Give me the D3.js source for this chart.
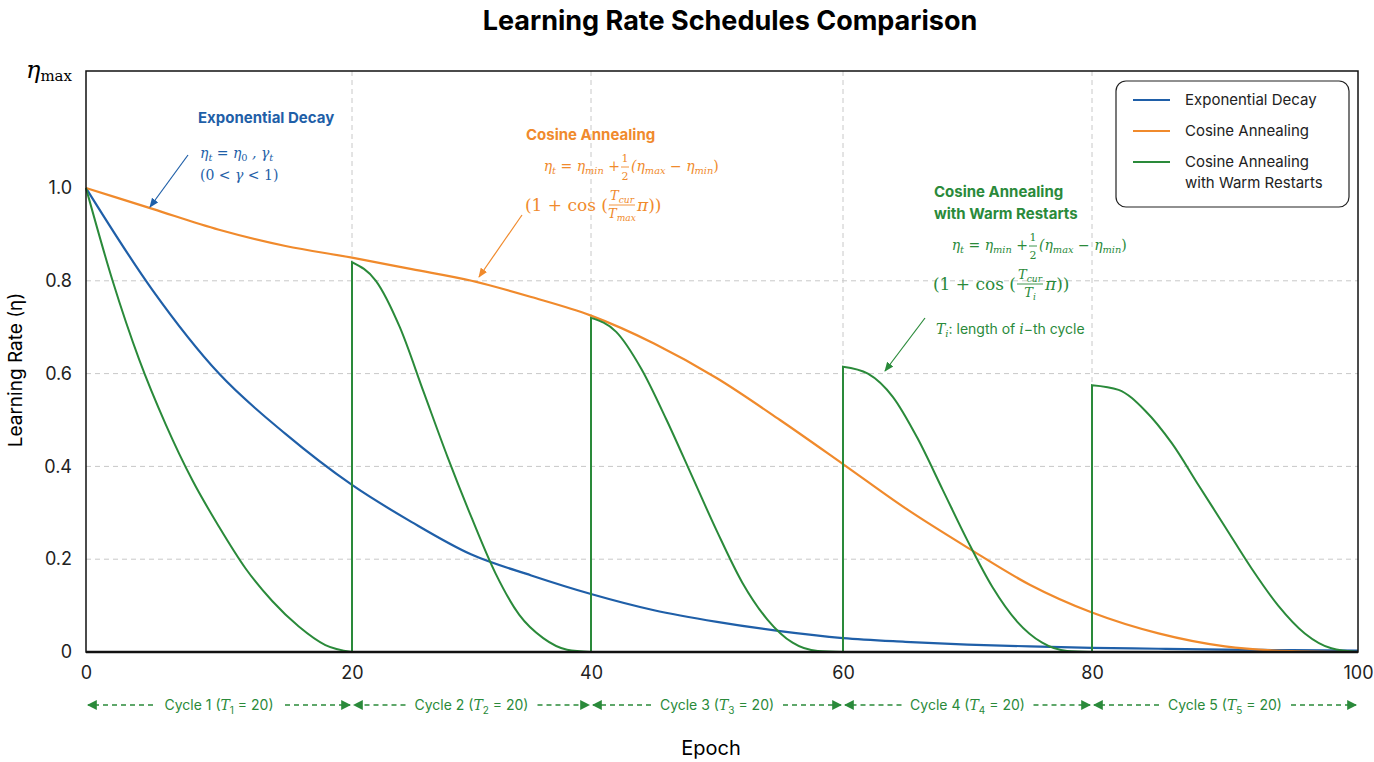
<!DOCTYPE html>
<html><head><meta charset="utf-8">
<script src="https://cdn.jsdelivr.net/npm/d3@7"></script>
<style>body{margin:0;background:#fff}</style>
</head><body><svg id="c" width="1374" height="762"></svg>
<script>
// values
const epochs = [0,5,10,15,20,25,30,35,40,45,50,55,60,65,70,75,80,85,90,95,100];
const expDecay = [1,0.78,0.60,0.47,0.36,0.28,0.21,0.165,0.125,0.09,0.065,0.045,0.03,0.022,0.016,0.012,0.009,0.007,0.005,0.004,0.003];
const cosAnneal = [1,0.955,0.91,0.875,0.85,0.825,0.80,0.765,0.725,0.665,0.59,0.50,0.405,0.31,0.225,0.145,0.085,0.04,0.012,0.002,0];
const cycleStarts = [0,20,40,60,80];
const cycleOffsets = [0,2,4,6,8,10,12,14,16,18,20];
const cycle1 = [1,0.80,0.63,0.49,0.37,0.27,0.18,0.11,0.055,0.015,0];
const cycle2 = [0.84,0.80,0.70,0.56,0.42,0.29,0.17,0.08,0.03,0.005,0];
const cycle3 = [0.72,0.69,0.61,0.50,0.38,0.26,0.15,0.07,0.02,0.002,0];
const cycle4 = [0.615,0.60,0.55,0.46,0.35,0.24,0.14,0.065,0.02,0.002,0];
const cycle5 = [0.575,0.565,0.52,0.45,0.36,0.27,0.18,0.10,0.04,0.008,0];
const cycles = [cycle1,cycle2,cycle3,cycle4,cycle5];
const xTicks = [0,20,40,60,80,100];
const xTickPx = [86,352,591,843,1092,1358];
const yTicks = [0,0.2,0.4,0.6,0.8,1.0];
const yTickLabels = ["0","0.2","0.4","0.6","0.8","1.0"];

const blue = "#1f5fa8", orange = "#f08a2c", green = "#2a8a3a";
const svg = d3.select("#c");
const x = d3.scaleLinear().domain(xTicks).range(xTickPx);
const y = d3.scaleLinear().domain([0,1]).range([652,188]);
const yTop = 71;
const font = "Inter, 'DejaVu Sans', sans-serif";
const serif = "'DejaVu Serif', 'Liberation Serif', serif";

svg.append("text").attr("x",730).attr("y",30).attr("text-anchor","middle")
  .attr("font-family",font).attr("font-weight",700).attr("font-size",27).text("Learning Rate Schedules Comparison");

// grid
const g = svg.append("g");
g.selectAll(".hg").data(yTicks.slice(1,5)).enter().append("line")
  .attr("x1",x(0)).attr("x2",x(100)).attr("y1",d=>y(d)).attr("y2",d=>y(d))
  .attr("stroke","#c8c8c8").attr("stroke-dasharray","5,4");
g.selectAll(".vg").data(xTicks.slice(1,5)).enter().append("line")
  .attr("x1",d=>x(d)).attr("x2",d=>x(d)).attr("y1",yTop).attr("y2",y(0))
  .attr("stroke","#c8c8c8").attr("stroke-dasharray","5,4");

// lines
const line = d3.line().x(d=>x(d[0])).y(d=>y(d[1])).curve(d3.curveMonotoneX);
svg.append("path").attr("d",line(epochs.map((e,i)=>[e,expDecay[i]])))
  .attr("fill","none").attr("stroke",blue).attr("stroke-width",2.2);
svg.append("path").attr("d",line(epochs.map((e,i)=>[e,cosAnneal[i]])))
  .attr("fill","none").attr("stroke",orange).attr("stroke-width",2.2);
cycles.forEach((c,k)=>{
  const pts = cycleOffsets.map((o,i)=>[cycleStarts[k]+o,c[i]]);
  let d = line(pts);
  if (k>0) d = "M"+x(cycleStarts[k])+","+y(0)+"L"+d.slice(1);
  svg.append("path").attr("d",d).attr("fill","none").attr("stroke",green).attr("stroke-width",2);
});

// frame and axes
svg.append("rect").attr("x",x(0)).attr("y",yTop).attr("width",x(100)-x(0)).attr("height",y(0)-yTop)
  .attr("fill","none").attr("stroke","#111").attr("stroke-width",1.5);
svg.append("line").attr("x1",x(0)).attr("x2",x(100)).attr("y1",y(0)).attr("y2",y(0)).attr("stroke","#111").attr("stroke-width",2.5);
svg.append("g").attr("transform",`translate(0,${y(0)})`)
  .call(d3.axisBottom(x).tickValues(xTicks).tickSize(0).tickPadding(14))
  .call(a=>a.select(".domain").remove())
  .selectAll("text").attr("font-family",font).attr("font-size",18).attr("fill","#222");
svg.append("g").attr("transform",`translate(${x(0)},0)`)
  .call(d3.axisLeft(y).tickValues(yTicks).tickFormat((d,i)=>yTickLabels[i]).tickSize(0).tickPadding(14))
  .call(a=>a.select(".domain").remove())
  .selectAll("text").attr("font-family",font).attr("font-size",18).attr("fill","#222");
svg.append("text").attr("x",26).attr("y",78).attr("font-family",serif).attr("font-style","italic").attr("font-size",24)
  .text("η").append("tspan").attr("font-style","normal").attr("font-size",15).attr("dy",3).text("max");
svg.append("text").attr("transform","translate(22,370) rotate(-90)").attr("text-anchor","middle")
  .attr("font-family",font).attr("font-size",19).text("Learning Rate (η)");
svg.append("text").attr("x",711).attr("y",755).attr("text-anchor","middle")
  .attr("font-family",font).attr("font-size",20).text("Epoch");

// cycle labels
const defs = svg.append("defs");
defs.append("marker").attr("id","ah").attr("viewBox","0 0 10 10").attr("refX",9).attr("refY",5)
  .attr("markerWidth",7).attr("markerHeight",7).attr("orient","auto-start-reverse")
  .append("path").attr("d","M0,0L10,5L0,10z").attr("fill",green);
cycleStarts.forEach((s,k)=>{
  const a = x(s)+2, b = x(s+20)-2, m = (a+b)/2, yy = 705;
  const t = svg.append("text").attr("x",m).attr("y",yy+5).attr("text-anchor","middle")
    .attr("font-family",font).attr("font-size",14).attr("fill",green);
  t.append("tspan").text(`Cycle ${k+1} (`);
  t.append("tspan").attr("font-family",serif).attr("font-style","italic").text("T");
  t.append("tspan").attr("font-size",10).attr("dy",4).text(k+1);
  t.append("tspan").attr("dy",-4).text(" = 20)");
  const hw = 66;
  [[m-hw,a],[m+hw,b]].forEach(([p,q])=>svg.append("line").attr("x1",p).attr("x2",q).attr("y1",yy).attr("y2",yy)
    .attr("stroke",green).attr("stroke-width",1.4).attr("stroke-dasharray","5,4").attr("marker-end","url(#ah)"));
});

// legend
const lg = svg.append("g");
lg.append("rect").attr("x",1116).attr("y",81).attr("width",233).attr("height",126).attr("rx",10)
  .attr("fill","#fff").attr("stroke","#222").attr("stroke-width",1.2);
[[blue,["Exponential Decay"],100],[orange,["Cosine Annealing"],131],[green,["Cosine Annealing","with Warm Restarts"],162]].forEach(([c,ls,yy])=>{
  lg.append("line").attr("x1",1133).attr("x2",1170).attr("y1",yy).attr("y2",yy).attr("stroke",c).attr("stroke-width",2.2);
  ls.forEach((l,i)=>lg.append("text").attr("x",1185).attr("y",yy+5+i*21).attr("font-family",font).attr("font-size",15).attr("fill","#222").text(l));
});

// annotations
function arrow(x1,y1,x2,y2,c,id){
  defs.append("marker").attr("id",id).attr("viewBox","0 0 10 10").attr("refX",9).attr("refY",5)
    .attr("markerWidth",8).attr("markerHeight",8).attr("orient","auto")
    .append("path").attr("d","M0,1L10,5L0,9z").attr("fill",c);
  svg.append("line").attr("x1",x1).attr("y1",y1).attr("x2",x2).attr("y2",y2).attr("stroke",c).attr("stroke-width",1.2).attr("marker-end",`url(#${id})`);
}
function txt(xx,yy,s,c,opt={}){
  return svg.append("text").attr("x",xx).attr("y",yy).attr("fill",c).attr("font-family",opt.serif?serif:font)
    .attr("font-size",opt.size||15).attr("font-weight",opt.bold?700:400).attr("font-style",opt.it?"italic":"normal")
    .attr("text-anchor",opt.anchor||"start").text(s);
}
function mtext(xx,yy,c,anchor,parts,size){
  // parts: [text, italic?, sub?]
  const t = svg.append("text").attr("x",xx).attr("y",yy).attr("fill",c).attr("text-anchor",anchor)
    .attr("font-family",serif).attr("font-size",size||14);
  let sub = false;
  parts.forEach(([s,it,sb])=>{
    const ts = t.append("tspan").attr("font-style",it?"italic":"normal").text(s);
    if (sb) ts.attr("font-size",(size||14)*0.7);
    if (sb && !sub) ts.attr("dy",3);
    if (!sb && sub) ts.attr("dy",-3);
    sub = !!sb;
  });
  return t;
}
function frac(xx,yy,c,num,den,size){
  const w = num.w;
  mtext(xx,yy-5,c,"middle",num.p,size);
  svg.append("line").attr("x1",xx-w/2).attr("x2",xx+w/2).attr("y1",yy).attr("y2",yy).attr("stroke",c).attr("stroke-width",0.9);
  mtext(xx,yy+13,c,"middle",den,size);
}
function formula(cx,yy,c,den){
  // first line: η_t = η_min + 1/2 (η_max − η_min)
  mtext(cx-2,yy,c,"end",[["η",1],["t",1,1],[" = ",0],["η",1],["min",1,1],[" + ",0]],14);
  frac(cx+3,yy-4,c,{w:8,p:[["1",0]]},[["2",0]],11);
  mtext(cx+9,yy,c,"start",[["(η",1],["max",1,1],[" − η",1],["min",1,1],[")",0]],14);
  // second line: (1 + cos(T_cur / T_den π))
  const y2 = yy+40;
  mtext(cx-14,y2,c,"end",[["(1 + cos (",0]],17);
  frac(cx,y2-6,c,{w:26,p:[["T",1],["cur",1,1]]},[["T",1],[den,1,1]],13);
  mtext(cx+15,y2,c,"start",[["π",1],["))",0]],17);
}
txt(198,123,"Exponential Decay",blue,{bold:1,size:15});
mtext(200,158,blue,"start",[["η",1],["t",1,1],[" = η",1],["0",0,1],[" , γ",1],["t",1,1]],14);
mtext(200,180,blue,"start",[["(0 < ",0],["γ",1],[" < 1)",0]],14);
arrow(188,155,150,207,blue,"ab");

txt(526,140,"Cosine Annealing",orange,{bold:1,size:15});
formula(622,171,orange,"max");
arrow(522,215,479,277,orange,"ao");

txt(934,197,"Cosine Annealing",green,{bold:1,size:15});
txt(934,219,"with Warm Restarts",green,{bold:1,size:15});
formula(1030,250,green,"i");
const tl = txt(936,334,"",green,{size:14});
tl.append("tspan").attr("font-family",serif).attr("font-style","italic").text("T");
tl.append("tspan").attr("font-family",serif).attr("font-style","italic").attr("font-size",10).attr("dy",3).text("i");
tl.append("tspan").attr("dy",-3).text(": length of ");
tl.append("tspan").attr("font-family",serif).attr("font-style","italic").text("i");
tl.append("tspan").text("−th cycle");
arrow(925,318,885,371,green,"ag");
</script></body></html>
